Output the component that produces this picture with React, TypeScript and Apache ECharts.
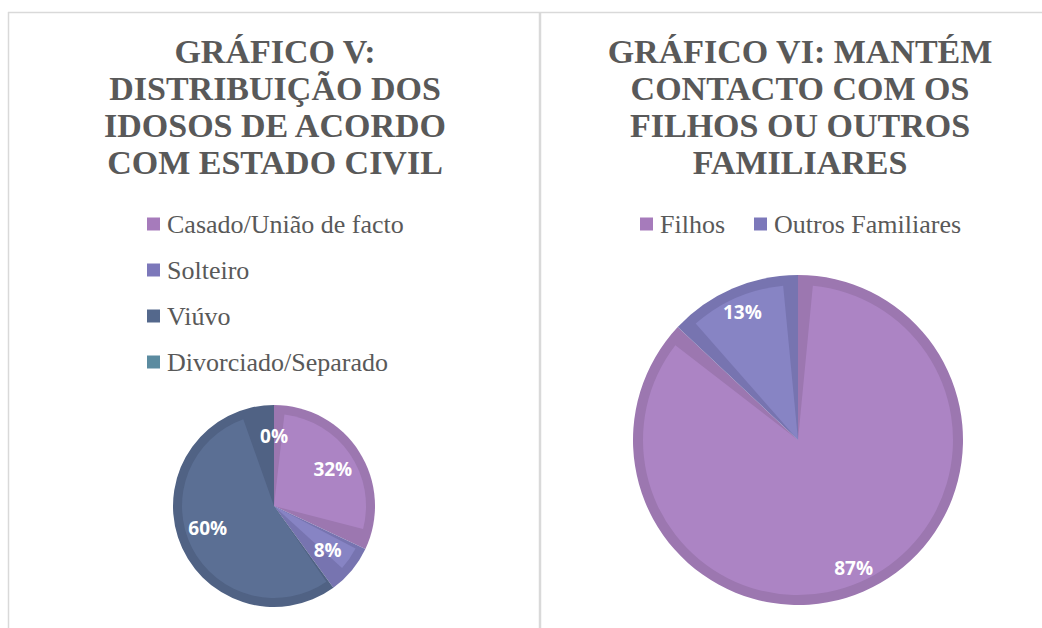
import React, { useEffect, useRef } from "react";
import * as echarts from "echarts";

const leftCategories = ["Casado/União de facto", "Solteiro", "Viúvo", "Divorciado/Separado"];
const leftValues = [32, 8, 60, 0];
const rightCategories = ["Filhos", "Outros Familiares"];
const rightValues = [87, 13];

const leftTitle = "GRÁFICO V:\nDISTRIBUIÇÃO DOS\nIDOSOS DE ACORDO\nCOM ESTADO CIVIL";
const rightTitle = "GRÁFICO VI: MANTÉM\nCONTACTO COM OS\nFILHOS OU OUTROS\nFAMILIARES";

const leftFill = ["#AC84C4", "#8784C4", "#5B6F94", "#5E8FA6"];
const leftDark = ["#9C77B0", "#7774B0", "#506284", "#527E92"];
const leftLegend = ["#A67BBB", "#7C78BA", "#54688C", "#5B8BA0"];
const rightFill = ["#AC84C4", "#8784C4"];
const rightDark = ["#9C77B0", "#7774B0"];
const rightLegend = ["#A67BBB", "#7C78BA"];

export default function App() {
  const ref = useRef<HTMLDivElement>(null);
  useEffect(() => {
    if (!ref.current) return;
    const chart = echarts.init(ref.current, undefined, { renderer: "svg" });
    const mk = (cats: string[], vals: number[], cols: string[]) =>
      cats.map((n, i) => ({ name: n, value: vals[i], itemStyle: { color: cols[i] } }));
    const labelFont = {
      color: "#FFFFFF",
      fontFamily: "Open Sans",
      fontWeight: "bold" as const,
      fontSize: 19,
    };
    const titleStyle = {
      fontFamily: "Liberation Serif",
      fontWeight: "bold" as const,
      fontSize: 34,
      lineHeight: 37,
      color: "#595959",
    };
    const legendText = {
      fontFamily: "Liberation Serif",
      fontSize: 26,
      color: "#595959",
      padding: [0, 0, 0, 2],
    };
    const LC = [274, 506];
    const LR = 101;
    const RC = [798, 440];
    const RR = 165;
    chart.setOption({
      animation: false,
      backgroundColor: "#FFFFFF",
      title: [
        { text: leftTitle, left: 275, top: 33, padding: 0, textAlign: "center", textStyle: titleStyle },
        { text: rightTitle, left: 800, top: 33, padding: 0, textAlign: "center", textStyle: titleStyle },
      ],
      legend: [
        {
          orient: "vertical",
          left: 147,
          top: 211,
          padding: 0,
          itemGap: 20,
          itemWidth: 13,
          itemHeight: 13,
          icon: "rect",
          textStyle: legendText,
          data: leftCategories.map((n, i) => ({ name: n, itemStyle: { color: leftLegend[i] } })),
        },
        {
          orient: "horizontal",
          left: 640,
          top: 211,
          padding: 0,
          itemGap: 29,
          itemWidth: 13,
          itemHeight: 13,
          icon: "rect",
          textStyle: legendText,
          data: rightCategories.map((n, i) => ({ name: n, itemStyle: { color: rightLegend[i] } })),
        },
      ],
      graphic: [
        { type: "line", shape: { x1: 8, y1: 12.5, x2: 1042, y2: 12.5 }, style: { stroke: "#D9D9D9", lineWidth: 1.5 }, silent: true },
        { type: "line", shape: { x1: 8.5, y1: 12, x2: 8.5, y2: 628 }, style: { stroke: "#D9D9D9", lineWidth: 1.5 }, silent: true },
        { type: "line", shape: { x1: 540, y1: 12, x2: 540, y2: 628 }, style: { stroke: "#D9D9D9", lineWidth: 2.5 }, silent: true },
      ],
      series: [
        {
          type: "pie",
          name: "base-left",
          center: LC,
          radius: [0, LR],
          startAngle: 90,
          clockwise: true,
          silent: true,
          label: { show: false },
          labelLine: { show: false },
          data: mk(leftCategories, leftValues, leftDark),
        },
        {
          type: "pie",
          name: "fill-left",
          center: LC,
          radius: [0, LR - 9],
          startAngle: 90,
          clockwise: true,
          padAngle: 13,
          silent: true,
          label: { show: false },
          labelLine: { show: false },
          data: mk(leftCategories, leftValues, leftFill),
        },
        {
          type: "pie",
          name: "labels-left",
          center: LC,
          radius: [LR * 0.32, LR],
          startAngle: 90,
          clockwise: true,
          silent: true,
          itemStyle: { color: "rgba(0,0,0,0)" },
          label: { show: true, position: "inside", formatter: "{d}%", ...labelFont },
          labelLine: { show: false },
          data: leftCategories.map((n, i) => ({ name: n, value: leftValues[i] })),
        },
        {
          type: "pie",
          name: "base-right",
          center: RC,
          radius: [0, RR],
          startAngle: 90,
          clockwise: true,
          silent: true,
          label: { show: false },
          labelLine: { show: false },
          data: mk(rightCategories, rightValues, rightDark),
        },
        {
          type: "pie",
          name: "fill-right",
          center: RC,
          radius: [0, RR - 10],
          startAngle: 90,
          clockwise: true,
          padAngle: 11,
          silent: true,
          label: { show: false },
          labelLine: { show: false },
          data: mk(rightCategories, rightValues, rightFill),
        },
        {
          type: "pie",
          name: "labels-right",
          center: RC,
          radius: [RR * 0.66, RR],
          startAngle: 90,
          clockwise: true,
          silent: true,
          itemStyle: { color: "rgba(0,0,0,0)" },
          label: { show: true, position: "inside", formatter: "{d}%", ...labelFont },
          labelLine: { show: false },
          data: rightCategories.map((n, i) => ({ name: n, value: rightValues[i] })),
        },
      ],
    });
    return () => chart.dispose();
  }, []);
  return (
    <div
      ref={ref}
      style={{ position: "fixed", left: 0, top: 0, width: 1042, height: 628 }}
    />
  );
}
